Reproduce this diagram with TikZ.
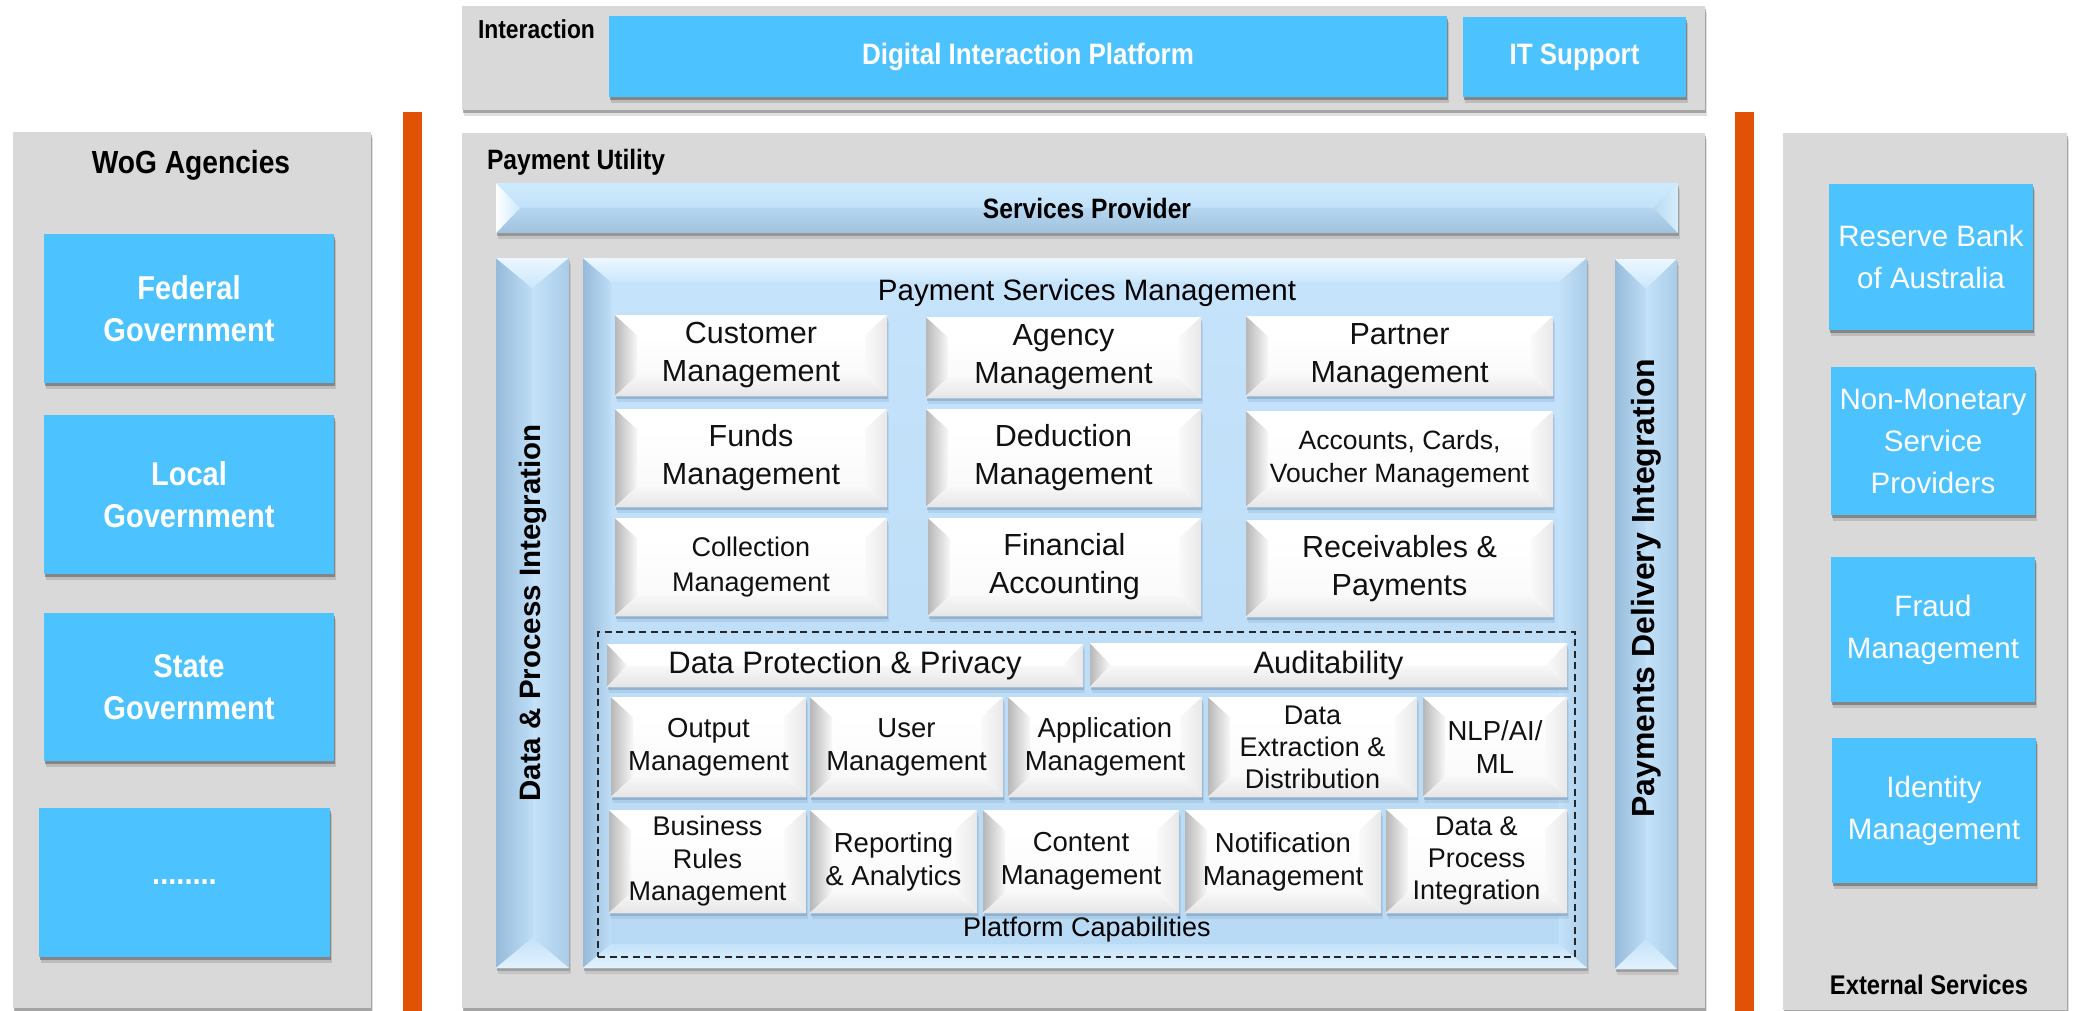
\documentclass[tikz,border=0pt]{standalone}
\usepackage{fontspec}
\setmainfont{Liberation Sans}
\newfontfamily\nrw[FakeStretch=0.88]{Liberation Sans}

\definecolor{panelgray}{HTML}{D9D9D9}
\definecolor{skyb}{RGB}{76,195,255}
\definecolor{orng}{RGB}{226,82,5}
\definecolor{shadowblue}{HTML}{7B9CBD}
\definecolor{lbface}{HTML}{BEDEF7}
\definecolor{inktext}{HTML}{111111}

% bevelled white tile: #1 side inset, #2 top/bottom inset
\newcommand\wfacets[2]{%
  \path (path picture bounding box.north west) coordinate (bA)
        (path picture bounding box.north east) coordinate (bB)
        (path picture bounding box.south east) coordinate (bC)
        (path picture bounding box.south west) coordinate (bD);
  \path ([xshift=#1,yshift=-#2]bA) coordinate (ba)
        ([xshift=-#1,yshift=-#2]bB) coordinate (bb)
        ([xshift=-#1,yshift=#2]bC) coordinate (bc)
        ([xshift=#1,yshift=#2]bD) coordinate (bd);
  \fill[top color=white,bottom color=black!2] (ba) rectangle (bc);
  \fill[left color=black!28,right color=black!3] (bA)--(ba)--(bd)--(bD)--cycle;
  \fill[white] (bA)--(bB)--(bb)--(ba)--cycle;
  \fill[left color=black!2,right color=black!9] (bB)--(bC)--(bc)--(bb)--cycle;
  \fill[top color=black!3,bottom color=black!10] (bD)--(bd)--(bc)--(bC)--cycle;
}
% bevelled light blue panel
\newcommand\bfacets[2]{%
  \path (path picture bounding box.north west) coordinate (bA)
        (path picture bounding box.north east) coordinate (bB)
        (path picture bounding box.south east) coordinate (bC)
        (path picture bounding box.south west) coordinate (bD);
  \path ([xshift=#1,yshift=-#2]bA) coordinate (ba)
        ([xshift=-#1,yshift=-#2]bB) coordinate (bb)
        ([xshift=-#1,yshift=#2]bC) coordinate (bc)
        ([xshift=#1,yshift=#2]bD) coordinate (bd);
  \fill[top color={rgb,255:red,197;green,227;blue,251},bottom color={rgb,255:red,185;green,218;blue,244}] (ba) rectangle (bc);
  \fill[left color={rgb,255:red,150;green,187;blue,218},right color={rgb,255:red,190;green,221;blue,246}] (bA)--(ba)--(bd)--(bD)--cycle;
  \fill[top color={rgb,255:red,236;green,247;blue,255},bottom color={rgb,255:red,202;green,231;blue,252}] (bA)--(bB)--(bb)--(ba)--cycle;
  \fill[left color={rgb,255:red,196;green,226;blue,249},right color={rgb,255:red,170;green,204;blue,232}] (bB)--(bC)--(bc)--(bb)--cycle;
  \fill[top color={rgb,255:red,196;green,226;blue,249},bottom color={rgb,255:red,226;green,242;blue,254}] (bD)--(bd)--(bc)--(bC)--cycle;
}
% bevelled horizontal bar
\newcommand\sfacets[2]{%
  \path (path picture bounding box.north west) coordinate (bA)
        (path picture bounding box.north east) coordinate (bB)
        (path picture bounding box.south east) coordinate (bC)
        (path picture bounding box.south west) coordinate (bD);
  \path ([xshift=#1,yshift=-#2]bA) coordinate (ba)
        ([xshift=-#1,yshift=-#2]bB) coordinate (bb)
        ([xshift=-#1,yshift=#2]bC) coordinate (bc)
        ([xshift=#1,yshift=#2]bD) coordinate (bd);
  \fill[top color={rgb,255:red,206;green,234;blue,253},bottom color={rgb,255:red,194;green,226;blue,250}] (bA)--(bB)--(bb)--(ba)--cycle;
  \fill[top color={rgb,255:red,182;green,214;blue,240},bottom color={rgb,255:red,160;green,194;blue,222}] (bD)--(bd)--(bc)--(bC)--cycle;
  \fill[left color=white,right color={rgb,255:red,205;green,233;blue,252}] (bA)--(ba)--(bd)--(bD)--cycle;
  \fill[left color={rgb,255:red,186;green,218;blue,243},right color={rgb,255:red,214;green,238;blue,253}] (bB)--(bC)--(bc)--(bb)--cycle;
}

% box from corner coordinates: name, x1, y1, x2, y2, style, text
\newcommand\bx[7]{\node[#6,minimum width={(#4-#2)*1pt},minimum height={(#5-#3)*1pt}] (#1) at ({(#2+#4)/2},{(#3+#5)/2}) {#7};}

\begin{document}
\begin{tikzpicture}[x=1pt,y=-1pt,
  every node/.style={inner sep=0pt,outer sep=0pt,align=center},
  shd/.style={preaction={fill=#1,opacity=.55,transform canvas={xshift=1pt,yshift=-3pt}},
              preaction={fill=#1,opacity=.22,transform canvas={xshift=2pt,yshift=-6pt}}},
  panel/.style={fill=panelgray,shd=black!55},
  skybox/.style={fill=skyb,text=white,shd=black!65},
  wbox/.style 2 args={fill=white,path picture={\wfacets{#1pt}{#2pt}},shd=shadowblue,text=inktext},
  bbox/.style 2 args={fill=lbface,path picture={\bfacets{#1pt}{#2pt}},shd=black!50},
  sbox/.style 2 args={fill=lbface,path picture={\sfacets{#1pt}{#2pt}},shd=black!55},
  headfont/.style={font=\nrw\bfseries\fontsize{#1}{#1}\selectfont},
  skyfont/.style={font=\nrw\bfseries\fontsize{33}{42}\selectfont},
  extfont/.style={font=\fontsize{29.5}{42}\selectfont},
  bigtile/.style={font=\fontsize{30.5}{38}\selectfont},
  smalltile/.style={font=\fontsize{27.5}{33}\selectfont},
]
\fill[white] (0,0) rectangle (2080,1011);
\useasboundingbox (0,0) rectangle (2080,1011);

% ---------- outer panels ----------
\bx{wog}{13}{132}{371}{1008}{panel}{}
\bx{inter}{462}{6}{1705}{110}{panel}{}
\bx{pu}{462}{133}{1705}{1008}{panel}{}
\bx{ext}{1783}{133}{2067}{1010}{panel}{}

% orange separators
\fill[orng] (403,112) rectangle (422,1011);
\fill[orng] (1735,112) rectangle (1754,1011);

% panel titles
\node[headfont=26,anchor=base west] (lInter) at (478,39) {Interaction};
\node[headfont=28,anchor=base west] (lPU) at (487,170) {Payment Utility};
\node[headfont=32,anchor=base] (lWoG) at (191,174) {WoG Agencies};
\node[headfont=27,anchor=base] (lExt) at (1929,994) {External Services};

% ---------- interaction layer ----------
\bx{dip}{609}{16}{1447}{97}{skybox,headfont=29.5}{Digital Interaction Platform}
\bx{its}{1463}{17}{1686}{97}{skybox,headfont=29.5}{IT Support}

% ---------- agencies ----------
\bx{fed}{44}{234}{334}{383}{skybox,skyfont}{Federal\\Government}
\bx{loc}{44}{415}{334}{574}{skybox,skyfont}{Local\\Government}
\bx{sta}{44}{613}{334}{761}{skybox,skyfont}{State\\Government}
\bx{more}{39}{808}{330}{957}{skybox,skyfont}{........}

% ---------- external services ----------
\bx{rba}{1829}{184}{2033}{330}{skybox,extfont}{Reserve Bank\\of Australia}
\bx{nms}{1831}{367}{2035}{515}{skybox,extfont}{Non-Monetary\\Service\\Providers}
\bx{frd}{1831}{557}{2035}{702}{skybox,extfont}{Fraud\\Management}
\bx{idm}{1832}{738}{2036}{883}{skybox,extfont}{Identity\\Management}

% ---------- payment utility ----------
\bx{sp}{496}{183}{1678}{233}{sbox={24}{25},headfont=28}{Services Provider}
\bx{dpi}{496}{258}{569}{968}{bbox={36}{30}}{}
\node[rotate=90,font=\bfseries\fontsize{29.5}{30}\selectfont] (dpiT) at (dpi.center) {Data \& Process Integration};
\bx{pdi}{1615}{259}{1677}{969}{bbox={31}{30}}{}
\node[rotate=90,font=\bfseries\fontsize{32}{32}\selectfont] (pdiT) at ([yshift=26pt]pdi.center) {Payments Delivery Integration};

\bx{psm}{583}{258}{1587}{968}{bbox={28}{24}}{}
\node[font=\fontsize{29.5}{30}\selectfont,anchor=base] (psmT) at (1087,300) {Payment Services Management};

% service tiles
\bx{cust}{615}{315}{887}{396}{wbox={22}{20},bigtile}{Customer\\Management}
\bx{agcy}{926}{317}{1201}{398}{wbox={22}{20},bigtile}{Agency\\Management}
\bx{prtn}{1246}{316}{1553}{396}{wbox={22}{20},bigtile}{Partner\\Management}
\bx{fund}{615}{409}{887}{507}{wbox={22}{20},bigtile}{Funds\\Management}
\bx{dedu}{926}{409}{1201}{507}{wbox={22}{20},bigtile}{Deduction\\Management}
\bx{acct}{1246}{411}{1553}{507}{wbox={22}{20},font=\fontsize{26.5}{33}\selectfont}{Accounts, Cards,\\Voucher Management}
\bx{coll}{615}{518}{887}{616}{wbox={22}{20},font=\fontsize{27}{35}\selectfont}{Collection\\Management}
\bx{fina}{928}{518}{1201}{616}{wbox={22}{20},bigtile}{Financial\\Accounting}
\bx{recv}{1246}{520}{1553}{617}{wbox={22}{20},bigtile}{Receivables \&\\Payments}

% platform capabilities group
\bx{plat}{598}{632}{1575}{957}{draw=black!85,line width=1.5pt,dash pattern=on 7pt off 4.5pt}{}
\node[font=\fontsize{27}{27}\selectfont,anchor=base] (platT) at (1087,936) {Platform Capabilities};

\bx{dpp}{607}{644}{1083}{687}{wbox={20}{21},font=\fontsize{31}{31}\selectfont}{Data Protection \& Privacy}
\bx{aud}{1090}{643}{1567}{687}{wbox={20}{21},font=\fontsize{31}{31}\selectfont}{Auditability}

\bx{outp}{611}{697}{806}{797}{wbox={22}{20},smalltile}{Output\\Management}
\bx{user}{810}{697}{1003}{797}{wbox={22}{20},smalltile}{User\\Management}
\bx{appm}{1008}{697}{1202}{797}{wbox={22}{20},smalltile}{Application\\Management}
\bx{dext}{1208}{697}{1417}{797}{wbox={22}{20},font=\fontsize{27}{32}\selectfont}{Data\\Extraction \&\\Distribution}
\bx{nlp}{1423}{697}{1567}{797}{wbox={22}{20},smalltile}{NLP/AI/\\ML}

\bx{brm}{609}{810}{806}{913}{wbox={22}{20},font=\fontsize{27}{32.5}\selectfont}{Business\\Rules\\Management}
\bx{rep}{810}{810}{977}{913}{wbox={22}{20},smalltile}{Reporting\\\& Analytics}
\bx{cont}{983}{810}{1179}{913}{wbox={22}{20},smalltile}{Content\\Management}
\bx{noti}{1185}{810}{1381}{913}{wbox={22}{20},smalltile}{Notification\\Management}
\bx{dpint}{1386}{809}{1567}{913}{wbox={22}{20},font=\fontsize{27}{32}\selectfont}{Data \&\\Process\\Integration}
\end{tikzpicture}
\end{document}
